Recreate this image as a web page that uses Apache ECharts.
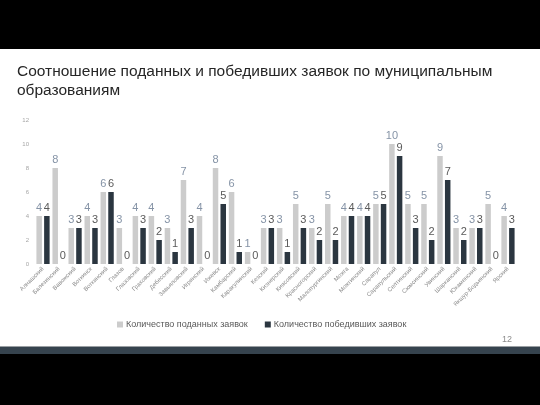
<!DOCTYPE html>
<html>
<head>
<meta charset="utf-8">
<script src="https://cdn.jsdelivr.net/npm/echarts@6/dist/echarts.min.js"></script>
<style>
html,body{margin:0;padding:0;background:#fff;}
#chart{width:540px;height:405px;}
</style>
</head>
<body>
<div id="chart"></div>
<script>
const categories = ["Алнашский","Балезинский","Вавожский","Воткинск","Воткинский","Глазов","Глазовский","Граховский","Дебесский","Завьяловский","Игринский","Ижевск","Камбарский","Каракулинский","Кезский","Кизнерский","Киясовский","Красногорский","Малопургинский","Можга","Можгинский","Сарапул","Сарапульский","Селтинский","Сюмсинский","Увинский","Шарканский","Юкаменский","Якшур-Бодьинский","Ярский"];
const submitted = [4,8,3,4,6,3,4,4,3,7,4,8,6,1,3,3,5,3,5,4,4,5,10,5,5,9,3,3,5,4];
const won = [4,0,3,3,6,0,3,2,1,3,0,5,1,0,3,1,3,2,2,4,4,5,9,3,2,7,2,3,0,3];
const yTicks = {min:0, max:12, interval:2};
const titleText = "Соотношение поданных и победивших заявок по муниципальным\nобразованиям";
const seriesNames = ["Количество поданных заявок","Количество победивших заявок"];
const pageNumber = "12";

const chart = echarts.init(document.getElementById('chart'), null, {renderer:'canvas'});
const sans = '"Liberation Sans",Arial,sans-serif';
chart.setOption({
  backgroundColor:'#ffffff',
  animation:false,
  title:{
    text:titleText, left:12, top:57,
    textStyle:{fontFamily:sans, fontSize:15.5, fontWeight:'normal', color:'#262626', lineHeight:19}
  },
  graphic:[
    {type:'rect', left:0, top:0, shape:{width:540, height:49}, style:{fill:'#000'}},
    {type:'rect', left:0, top:346, shape:{width:540, height:1}, style:{fill:'#9a9fa3'}},
    {type:'rect', left:0, top:347, shape:{width:540, height:7}, style:{fill:'#36434e'}},
    {type:'rect', left:0, top:354, shape:{width:540, height:51}, style:{fill:'#000'}},
    {type:'text', left:502, top:335, style:{text:pageNumber, fontSize:9, fill:'#8c8c8c', fontFamily:sans}}
  ],
  legend:{
    top:315, left:112, itemWidth:6, itemHeight:6, itemGap:17,
    icon:'rect',
    textStyle:{fontFamily:sans, fontSize:9, color:'#595959', padding:[0,0,0,-2]},
    data:seriesNames
  },
  grid:{left:35, right:24, top:120, bottom:141, containLabel:false},
  xAxis:{
    type:'category', data:categories,
    axisLine:{show:false}, axisTick:{show:false},
    axisLabel:{interval:0, rotate:45, fontSize:6, color:'#8c8c8c', fontFamily:sans, margin:4}
  },
  yAxis:{
    type:'value', min:yTicks.min, max:yTicks.max, interval:yTicks.interval,
    splitLine:{show:false}, axisLine:{show:false}, axisTick:{show:false},
    axisLabel:{fontSize:6, color:'#a6a6a6', margin:6, fontFamily:sans}
  },
  series:[
    {name:seriesNames[0], type:'bar', data:submitted, barWidth:5.5, barGap:'40%',
     itemStyle:{color:'#cccccc'},
     label:{show:true, position:'top', distance:3, fontFamily:sans, fontSize:11, color:'#8593a6'}},
    {name:seriesNames[1], type:'bar', data:won, barWidth:5.5,
     itemStyle:{color:'#2b3640'},
     label:{show:true, position:'top', distance:3, fontFamily:sans, fontSize:11, color:'#5a5a5a'}}
  ]
});
</script>
</body>
</html>
